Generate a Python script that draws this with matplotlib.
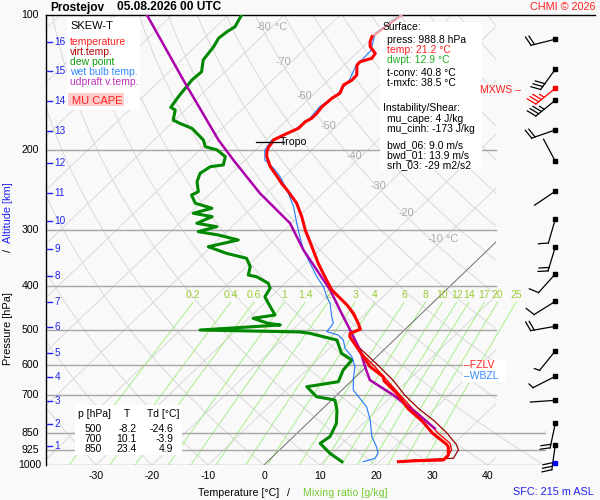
import numpy as np
import matplotlib
matplotlib.use("Agg")
import matplotlib.pyplot as plt
from matplotlib.patches import Rectangle, Polygon
from matplotlib.transforms import Affine2D
from matplotlib.ticker import NullLocator, NullFormatter

plt.rcParams['font.family'] = ['Liberation Sans', 'DejaVu Sans']
plt.rcParams['axes.unicode_minus'] = False

# ---------------- data ----------------
station = "Prostejov"
valid_time = "05.08.2026 00 UTC"

temp_p = [100, 107.1, 111.7, 114.6, 117.6, 121.7, 124.8, 127.0, 129.2, 135.9, 139.5, 143.1, 149.3,
          153.1, 159.9, 165.4, 169.7, 172.6, 178.6, 184.8, 189.6, 192.9, 196.2, 201.2, 206.4, 217.3,
          230.6, 236.6, 244.7, 262.0, 280.6, 300.4, 327.3, 356.2, 388.1, 408.4, 441.0, 460.2, 484.3,
          499.4, 509.8, 518.8, 560.1, 604.9, 636.6, 650, 693, 750, 800, 850, 900, 911, 925, 950,
          974.7, 978.2, 983.3]
temp_t = [-59.0, -59.8, -60.3, -59.7, -58.75, -56.6, -56.3, -57.75, -57.7, -55.9, -55.8, -56.4, -55.5,
          -56.0, -56.2, -55.9, -55.9, -56.4, -56.4, -57.8, -58.7, -58.4, -58.3, -57.7, -56.8, -54.3,
          -50.7, -49.2, -47.0, -42.8, -39.4, -36.3, -32.0, -27.8, -23.2, -20.4, -14.9, -12.2, -9.5,
          -8.0, -9.1, -8.5, -3.9, 0.7, 4.9, 5.8, 10.4, 15.3, 20.2, 24.2, 28.8, 29.5, 30.1, 31.05,
          31.1, 26.5, 23.4]

temp2_p = [560.1, 600, 647, 700, 750, 800, 850, 895, 926, 966, 975, 978.2]
temp2_t = [-3.9, 1.0, 6.1, 11.4, 16.1, 21.0, 25.2, 29.2, 30.7, 31.4, 30.2, 26.5]

virt_p = [441.0, 484.3, 499.4, 509.8, 518.8, 550, 600, 650, 700, 750, 800, 850, 900, 925, 950,
          966, 975, 983.3]
virt_t = [-14.9, -9.5, -8.0, -9.1, -8.5, -4.6, 1.8, 7.5, 12.2, 17.2, 22.4, 26.8, 30.5, 31.9, 32.3,
          32.6, 26.0, 23.7]

dew_p = [100.0, 106.2, 108.9, 112.6, 117.6, 121.7, 125.9, 133.7, 139.5, 151.9, 160.4, 162.6, 171.2,
         174.1, 178.6, 184.8, 189.6, 196.2, 199.5, 206.4, 215.4, 217.3, 224.8, 234.6, 247.0, 251.2,
         262.0, 268.8, 275.8, 280.6, 290.3, 295.4, 303.0, 308.2, 316.2, 327.3, 338.6, 347.3, 362.5,
         378.3, 381.6, 394.6, 404.8, 422.7, 429.9, 464.2, 472.1, 484.3, 488.5, 501.2, 506.3, 509.8,
         518.8, 527.6, 564.8, 584.4, 615.2, 653.0, 669.9, 705.1, 717.2, 754.5, 808.2, 850.4, 865.2,
         895.1, 941.9, 983.3]
dew_t = [-87.6, -86.6, -87.1, -87.4, -86.7, -86.4, -86.1, -84.2, -84.4, -83.7, -83.1, -81.8, -80.3,
         -78.5, -75.4, -73.0, -71.2, -69.6, -66.9, -64.2, -63.0, -65.0, -65.6, -64.6, -62.5, -63.1,
         -60.9, -57.0, -59.4, -55.4, -56.9, -52.7, -55.1, -50.9, -46.4, -50.5, -46.0, -41.5, -39.3,
         -38.1, -36.3, -33.0, -31.75, -31.1, -30.2, -25.9, -29.2, -25.6, -23.1, -36.5, -18.3, -16.25,
         -13.2, -10.2, -6.9, -3.8, -3.5, -2.2, -6.9, -3.3, 0.6, 2.8, 5.2, 6.2, 6.5,
         6.0, 9.6, 13.3]

wet_p = [100, 110, 120, 130, 140, 150, 160, 170, 180, 190, 200, 210, 219.1, 228.7, 244.7, 266.7,
         290.3, 311.0, 332.8, 356.2, 381.6, 401.6, 422.7, 437.2, 468.2, 484.3, 505.5, 514.3, 527.6,
         550.5, 574.4, 604.9, 641.7, 681.3, 705.1, 742.2, 794.3, 865.2, 910.9, 941.9, 966.3, 983.3]
wet_t = [-59.2, -60.3, -57.9, -57.7, -56.2, -55.8, -56.6, -56.2, -56.8, -59.0, -58.3, -56.5, -53.4,
         -50.7, -47.0, -42.7, -39.05, -36.0, -32.9, -29.25, -25.55, -22.5, -20.05, -18.25, -15.45,
         -13.95, -13.55, -10.9, -9.05, -7.2, -4.45, -2.0, -0.15, 2.0, 4.2, 7.5, 10.6, 14.0, 16.7,
         18.2, 18.6, 17.1]

parcel_p = [100, 141.8, 189.6, 210.1, 249, 290.3, 332.8, 408.4, 468.2, 501.2, 555.4, 604.9, 647.3,
            699.0, 767.6, 829.2]
parcel_t = [-104.5, -85.0, -68.5, -62.1, -51.2, -40.25, -32.9, -20.7, -13.4, -9.7, -4.2, -0.2, 3.1,
            10.1, 17.7, 23.7]

barb_p = [113.2, 132.0, 145.5, 154.7, 180.1, 211.4, 246.4, 284.0, 327.8, 376.3, 432.8, 491.8,
          557.9, 635.3, 718.2, 808.2, 902.8]
barb_dir = [256, 216, 231, 231, 251, 332, 236, 196, 197, 222, 238, 260, 219, 243, 266, 192, 188]
barb_spd = [20, 30, 35, 35, 20, 0, 0, 10, 20, 10, 10, 20, 5, 5, 0, 20, 30]
mxws_index = 2
sfc_p = 988.8

alt_km = [16, 15, 14, 13, 12, 11, 10, 9, 8, 7, 6, 5, 4, 3, 2, 1]
alt_p = [114.6, 133.0, 155.0, 181.1, 212.9, 248.2, 286.5, 330.6, 379.6, 435.0, 493.6, 562.9,
         638.5, 720.5, 812.2, 907.4]

p_labels = [100, 200, 300, 400, 500, 600, 700, 850, 925, 1000]
t_ticks = [-30, -20, -10, 0, 10, 20, 30, 40]
mr_values = [0.2, 0.4, 0.6, 1, 1.4, 2, 3, 4, 6, 8, 10, 12, 14, 17, 20, 25]
iso_labels = [-80, -70, -60, -50, -40, -30, -20, -10]
iso_label_p = [106.4, 127.4, 151.1, 176.5, 205.4, 239.5, 275.0, 315.0]

tropo_p = 191.2
fzl_p = 601.0
wbzl_p = 634.0

tbl_p = [500, 700, 850]
tbl_t = [-8.2, 10.1, 23.4]
tbl_td = [-24.6, -3.9, 4.9]

sfc_press = 988.8
sfc_temp = 21.2
sfc_dwpt = 12.9
t_conv = 40.8
t_mxfc = 38.5
mu_cape = 4
mu_cinh = -173
bwd_06 = 9.0
bwd_01 = 13.9
srh_03 = -29
sfc_alt = 215

# ---------------- geometry ----------------
SKEW = 83.6
PXD = 5.6
W, H = 600, 500
AX_L, AX_R, AX_T, AX_B = 46, 546, 15, 465
X0 = 264


def skx(t, p):
    return np.asarray(t, float) + SKEW * np.log10(1000.0 / np.asarray(p, float))


def px2x(px):
    return (px - X0) / PXD


BG = '#f9f9f9'
fig = plt.figure(figsize=(6, 5), dpi=100, facecolor=BG)
ax = fig.add_axes([AX_L / W, (H - AX_B) / H, (AX_R - AX_L) / W, (AX_B - AX_T) / H])
ax.set_facecolor(BG)
ax.set_yscale('log')
ax.set_ylim(1000, 100)
XL, XR, XI = px2x(AX_L), px2x(AX_R), px2x(496)
ax.set_xlim(XL, XR)
for s in ['top', 'right', 'bottom']:
    ax.spines[s].set_visible(False)
ax.spines['left'].set_color('black')
ax.spines['left'].set_linewidth(1.0)
ax.yaxis.set_major_locator(NullLocator())
ax.yaxis.set_minor_locator(NullLocator())
ax.yaxis.set_major_formatter(NullFormatter())
ax.yaxis.set_minor_formatter(NullFormatter())
ax.set_xticks(t_ticks)
ax.set_xticklabels([str(t) for t in t_ticks])
ax.tick_params(axis='x', length=0, pad=4.5, labelsize=7.6)
ax.tick_params(axis='y', length=0)

fpx = Affine2D().scale(1.0 / W, 1.0 / H) + fig.transFigure   # figure pixels, y up


def ftxt(x, y, s, **kw):
    kw.setdefault('va', 'center')
    kw.setdefault('fontsize', 7.5)
    ax.text(x, H - y, s, transform=fpx, clip_on=False, zorder=8, **kw)


def fbox(x0, y0, x1, y1, color='white', z=3):
    ax.add_patch(Rectangle((x0, H - y1), x1 - x0, y1 - y0, transform=fpx, facecolor=color,
                           edgecolor='none', clip_on=False, zorder=z))


clip_inner = Rectangle((XL, 100), XI - XL, 900, transform=ax.transData)
clip_step = Polygon([(XL, 1000), (XR, 1000), (XR, 840), (XI, 840), (XI, 100), (XL, 100)],
                    closed=True, transform=ax.transData)

pp = np.logspace(3, 2, 200)
# isotherms
for t0 in range(-160, 60, 10):
    ln, = ax.plot(skx([t0, t0], [1000, 100]), [1000, 100], color='#d9d9d9', lw=0.7, zorder=1)
    ln.set_clip_path(clip_inner)
# 0 degree isotherm
ln, = ax.plot(skx([0, 0], [1000, 100]), [1000, 100], color='#666666', lw=0.6, zorder=1.6)
ln.set_clip_path(clip_inner)
# dry adiabats
for th in range(-40, 200, 10):
    tt = (th + 273.15) * (pp / 1000.0) ** 0.286 - 273.15
    ln, = ax.plot(skx(tt, pp), pp, color='#d9d9d9', lw=0.7, zorder=1)
    ln.set_clip_path(clip_step)
# isotherm labels
for t0, pl in zip(iso_labels, iso_label_p):
    xx = float(skx(t0, pl))
    ax.text(xx, pl, str(t0), ha='right', va='center', color='#aaaaaa', fontsize=7.8, zorder=2)
    if t0 in (-80, -10):
        ax.text(xx, pl, ' \u00b0C', ha='left', va='center', color='#aaaaaa', fontsize=7.8, zorder=2)

# mixing ratio lines
pm = np.linspace(1000, 435, 60)
for w in mr_values:
    e = w * pm / (622.0 + w)
    lg = np.log(e / 6.112)
    tt = 243.5 * lg / (17.67 - lg)
    ax.plot(skx(tt, pm), pm, color='#aaee88', lw=0.7, zorder=1.5)
    ax.text(float(skx(tt[-1], pm[-1])), 418, f'{w:g}', ha='center', va='center',
            color='#99cc33', fontsize=7.5, zorder=2)

# isobars
for p in p_labels[1:]:
    xr = XR if p >= 850 else XI
    ax.plot([XL, xr], [p, p], color='#a6a6a6', lw=1.0, zorder=1.8)
ax.plot([XL, px2x(595)], [100, 100], color='black', lw=1.0, zorder=2, clip_on=False)

# pressure labels
for p in p_labels:
    ax.text(-16 / 500, p, str(p), transform=ax.get_yaxis_transform(), ha='center', va='center',
            fontsize=7.6, clip_on=False)

# altitude labels
for km, p in zip(alt_km, alt_p):
    ax.plot([0.0014, 0.0126], [p, p], transform=ax.get_yaxis_transform(), color='#2222ee',
            lw=1.0, zorder=3, clip_on=False)
    ax.text(0.017, p, str(km), transform=ax.get_yaxis_transform(), ha='left', va='center',
            color='#2222ee', fontsize=7.2, zorder=3)

# ---------------- profiles ----------------
tp = np.array(temp_p)
tt_ = np.array(temp_t)
top = tp <= 111.7
low = tp >= 111.7
ax.plot(skx(tt_[top], tp[top]), tp[top], color='#f4a0a0', lw=1.6, zorder=6)
ax.plot(skx(tt_[low], tp[low]), tp[low], color='#ff0000', lw=2.2, zorder=6, solid_joinstyle='round')
ax.plot(skx(temp2_t, temp2_p), temp2_p, color='#ff0000', lw=1.0, zorder=5.6)
ax.plot(skx(virt_t, virt_p), virt_p, color='#990000', lw=0.9, zorder=5.4)
ax.plot(skx(dew_t, dew_p), dew_p, color='#008800', lw=2.2, zorder=5, solid_joinstyle='round')
ax.plot(skx(wet_t, wet_p), wet_p, color='#2277ff', lw=0.8, zorder=5.2)
ax.plot(skx(parcel_t, parcel_p), parcel_p, color='#aa00aa', lw=1.8, zorder=5.8)

# tropopause
xt = float(skx(np.interp(tropo_p, temp_p, temp_t), tropo_p))
ax.plot([xt - 2.9, xt + 2.0], [tropo_p, tropo_p], color='black', lw=0.9, zorder=7)
ax.text(xt + 1.25, tropo_p, 'Tropo', ha='left', va='center', fontsize=7.6, zorder=7)

# ---------------- wind barbs ----------------
BX = 555.3
SHAFT, FLEN, FSP, TILT = 25.0, 10.0, 3.6, np.radians(20)


def barb(p, d, spd, color):
    yb = (H - AX_B) + (AX_B - AX_T) * np.log10(1000.0 / p)
    b = np.radians(d)
    s = np.array([np.sin(b), np.cos(b)])
    perp = np.array([s[1], -s[0]])
    st = np.array([BX, yb])
    tip = st + SHAFT * s
    ax.plot([st[0], tip[0]], [st[1], tip[1]], color=color, lw=0.9, transform=fpx,
            clip_on=False, zorder=7)
    n_full = int(spd // 10)
    half = (spd % 10) >= 5
    k = 0
    for i in range(n_full):
        a = tip - k * FSP * s
        e = a + FLEN * (np.cos(TILT) * perp + np.sin(TILT) * s)
        ax.plot([a[0], e[0]], [a[1], e[1]], color=color, lw=0.9, transform=fpx,
                clip_on=False, zorder=7)
        k += 1
    if half:
        a = tip - k * FSP * s
        e = a + 0.55 * FLEN * (np.cos(TILT) * perp + np.sin(TILT) * s)
        ax.plot([a[0], e[0]], [a[1], e[1]], color=color, lw=0.9, transform=fpx,
                clip_on=False, zorder=7)
    ax.plot([BX], [yb], marker='s', ms=2.6, color=color, mec=color, transform=fpx,
            clip_on=False, zorder=8)


for i, (p, d, spd) in enumerate(zip(barb_p, barb_dir, barb_spd)):
    barb(p, d, spd, '#ff0000' if i == mxws_index else 'black')
ysfc = (H - AX_B) + (AX_B - AX_T) * np.log10(1000.0 / sfc_p)
ax.plot([BX], [ysfc], marker='s', ms=2.8, color='#0000ff', transform=fpx, clip_on=False, zorder=8)
ymx = AX_B - (AX_B - AX_T) * np.log10(1000.0 / barb_p[mxws_index])
ftxt(521, ymx + 2, 'MXWS \u2013', ha='right', color='#ff2020')

# ---------------- boxes & texts ----------------
fbox(66.7, 18.3, 140, 110)
fbox(68.3, 93.3, 124, 106, color='#ffcccc', z=3.2)
fbox(380, 21.7, 481.7, 170)
fbox(75, 405, 182, 455)
fbox(463, 360, 506, 382)

ftxt(70, 26, 'SKEW-T', fontsize=8)
ftxt(70, 41.7, 'temperature', color='#ff2020')
ftxt(70, 51.7, 'virt.temp.', color='#aa0000')
ftxt(70, 61.7, 'dew point', color='#119911')
ftxt(70, 71.7, 'wet bulb temp.', color='#3388ff')
ftxt(70, 81.7, 'udpraft v.temp.', color='#bb33bb')
ftxt(97, 100.5, 'MU CAPE', ha='center', color='#ff2020', fontsize=8)

ftxt(382.7, 27.3, 'Surface:')
ftxt(386.7, 40, f'press: {sfc_press:.1f} hPa')
ftxt(386.7, 50, f'temp: {sfc_temp:.1f} \u00b0C', color='#ff2020')
ftxt(386.7, 60, f'dwpt: {sfc_dwpt:.1f} \u00b0C', color='#22aa22')
ftxt(386.7, 73.3, f't-conv: {t_conv:.1f} \u00b0C')
ftxt(386.7, 83.3, f't-mxfc: {t_mxfc:.1f} \u00b0C')
ftxt(382.7, 108.3, 'Instability/Shear:')
ftxt(386.7, 119.3, f'mu_cape: {mu_cape} J/kg')
ftxt(386.7, 129.3, f'mu_cinh: {mu_cinh} J/kg')
ftxt(386.7, 145, f'bwd_06: {bwd_06:.1f} m/s')
ftxt(386.7, 155, f'bwd_01: {bwd_01:.1f} m/s')
ftxt(386.7, 165, f'srh_03: {srh_03} m2/s2')

# table
ftxt(78, 414.3, 'p [hPa]')
ftxt(127, 414.3, 'T', ha='center')
ftxt(147, 414.3, 'Td [\u00b0C]')
for j, (p, t, td) in enumerate(zip(tbl_p, tbl_t, tbl_td)):
    yy = 428.7 + 10 * j
    ftxt(101.7, yy, str(p), ha='right')
    ftxt(136.7, yy, f'{t:.1f}', ha='right')
    ftxt(173.3, yy, f'{td:.1f}', ha='right')

# freezing levels
ax.text(px2x(464), fzl_p, '\u2013FZLV', ha='left', va='center', color='#ff2020', fontsize=7.5, zorder=8)
ax.text(px2x(464), wbzl_p, '\u2013WBZL', ha='left', va='center', color='#3388ff', fontsize=7.5, zorder=8)

# titles and axis labels
ftxt(50, 7.5, station, fontsize=8.6, fontweight='bold', ha='left')
ftxt(117.3, 7.5, valid_time, fontsize=8.6, fontweight='bold', ha='left')
ftxt(595, 7, 'CHMI \u00a9 2026', ha='right', color='#ff2020', fontsize=7.8)
ftxt(513, 492, f'SFC: {sfc_alt} m ASL', ha='left', color='#2222ee', fontsize=7.8)

ftxt(197.7, 493, 'Temperature [\u00b0C]', ha='left', fontsize=7.7)
ftxt(288.5, 493, '/', ha='center', fontsize=7.7)
ftxt(302.7, 493, 'Mixing ratio [g/kg]', ha='left', color='#77cc33', fontsize=7.7)

ftxt(8, 329, 'Pressure [hPa]', rotation=90, ha='center', fontsize=7.9)
ftxt(8, 250, '/', rotation=90, ha='center', fontsize=7.9)
ftxt(8, 213, 'Altitude [km]', rotation=90, ha='center', color='#2222ee', fontsize=7.9)

fig.savefig('out.png', dpi=100, facecolor=BG)
